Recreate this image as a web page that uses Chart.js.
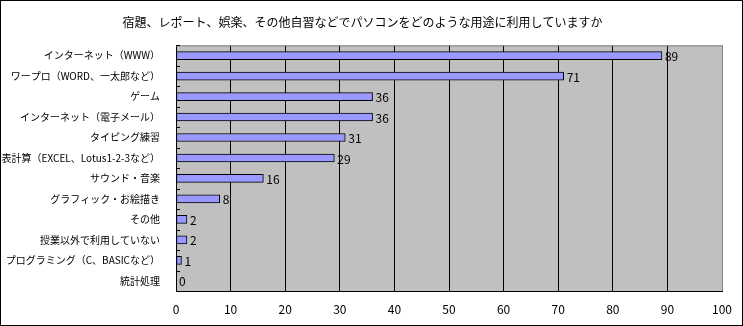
<!DOCTYPE html>
<html>
<head>
<meta charset="utf-8">
<script src="https://cdn.jsdelivr.net/npm/chart.js@4"></script>
<style>
  html, body { margin: 0; padding: 0; background: #fff; }
  #wrap { width: 743px; height: 326px; }
</style>
</head>
<body>
<div id="wrap"><canvas id="usageChart" width="743" height="326"></canvas></div>
<script>
// データ
const chartTitle = '宿題、レポート、娯楽、その他自習などでパソコンをどのような用途に利用していますか';
const categories = [
    'インターネット（WWW）',
    'ワープロ（WORD、一太郎など）',
    'ゲーム',
    'インターネット（電子メール）',
    'タイピング練習',
    '表計算（EXCEL、Lotus1-2-3など）',
    'サウンド・音楽',
    'グラフィック・お絵描き',
    'その他',
    '授業以外で利用していない',
    'プログラミング（C、BASICなど）',
    '統計処理'
];
const counts = [89, 71, 36, 36, 31, 29, 16, 8, 2, 2, 1, 0];
const xTicks = [0, 10, 20, 30, 40, 50, 60, 70, 80, 90, 100];

const FONT = '"Noto Sans CJK JP", "MS PGothic", sans-serif';

// 背景・枠線・値ラベル
const excelLook = {
    id: 'excelLook',
    beforeDraw(chart) {
        const { ctx, chartArea: a } = chart;
        ctx.save();
        ctx.fillStyle = '#ffffff';
        ctx.fillRect(0, 0, chart.width, chart.height);
        ctx.fillStyle = '#c0c0c0';
        ctx.fillRect(a.left, a.top, a.right - a.left, a.bottom - a.top);
        ctx.restore();
    },
    afterDraw(chart) {
        const { ctx, chartArea: a } = chart;
        ctx.save();
        // 上・右の枠 (灰色)
        ctx.strokeStyle = '#808080';
        ctx.lineWidth = 1;
        ctx.beginPath();
        ctx.moveTo(a.left, a.top + 0.5);
        ctx.lineTo(a.right + 0.5, a.top + 0.5);
        ctx.lineTo(a.right + 0.5, a.bottom);
        ctx.stroke();

        // 区分の目盛り (内側)
        ctx.strokeStyle = '#000';
        ctx.beginPath();
        for (let i = 0; i <= categories.length; i++) {
            const y = Math.round(a.top + (a.bottom - a.top) * i / categories.length) + 0.5;
            ctx.moveTo(a.left, y);
            ctx.lineTo(a.left + 4, y);
        }
        ctx.stroke();

        // 値ラベル
        ctx.fillStyle = '#000';
        ctx.font = '12px ' + FONT;
        ctx.textBaseline = 'middle';
        ctx.textAlign = 'left';
        const meta = chart.getDatasetMeta(0);
        meta.data.forEach((bar, i) => {
            ctx.fillText(String(counts[i]), bar.x + 3, bar.y + 1);
        });

        // 外枠
        ctx.strokeStyle = '#000';
        ctx.strokeRect(0.5, 0.5, chart.width - 1, chart.height - 1);
        ctx.restore();
    }
};

new Chart(document.getElementById('usageChart'), {
    type: 'bar',
    data: {
        labels: categories,
        datasets: [{
            data: counts,
            backgroundColor: '#9999ff',
            borderColor: '#000000',
            borderWidth: 1,
            borderSkipped: false,
            barThickness: 8
        }]
    },
    options: {
        indexAxis: 'y',
        responsive: false,
        animation: false,
        layout: { padding: { left: 0, right: 18, top: 0, bottom: 0 } },
        plugins: {
            legend: { display: false },
            tooltip: { enabled: false },
            title: {
                display: true,
                text: chartTitle,
                color: '#000',
                font: { family: FONT, size: 12, weight: 'normal' },
                padding: { top: 15, bottom: 16 }
            }
        },
        scales: {
            x: {
                min: 0,
                max: 100,
                afterBuildTicks: s => { s.ticks = xTicks.map(v => ({ value: v })); },
                afterFit: s => { s.height = 35; },
                border: { color: '#000', width: 1 },
                grid: {
                    color: c => (c.tick && c.tick.value === 100 ? '#808080' : '#000'),
                    drawTicks: false,
                    lineWidth: 1
                },
                ticks: {
                    color: '#000',
                    padding: 11,
                    font: { family: FONT, size: 12 }
                }
            },
            y: {
                afterFit: s => { s.width = 176; },
                border: { color: '#000', width: 1 },
                grid: { display: false },
                ticks: {
                    color: '#000',
                    padding: 8,
                    autoSkip: false,
                    font: { family: FONT, size: 10 }
                }
            }
        }
    },
    plugins: [excelLook]
});
</script>
</body>
</html>
